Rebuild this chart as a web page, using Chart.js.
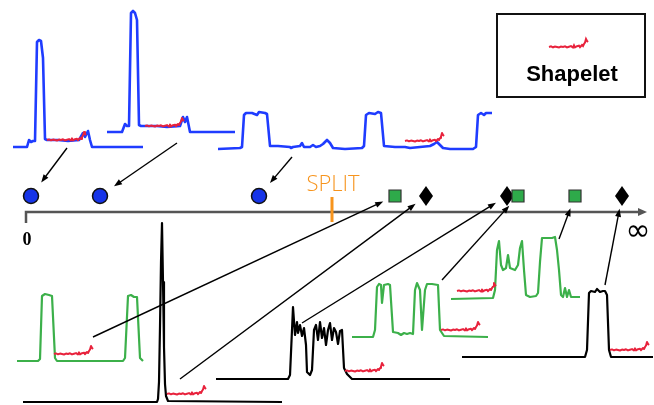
<!DOCTYPE html>
<html>
<head>
<meta charset="utf-8">
<script src="https://cdn.jsdelivr.net/npm/chart.js@4.4.0/dist/chart.umd.min.js"></script>
<style>
html, body { margin: 0; padding: 0; background: #fff; overflow: hidden; }
</style>
</head>
<body>
<canvas id="mycanvas" width="654" height="405"></canvas>
<script>
// the shapelet: [step, height]
var shapelet = [[0,0],[2,0.6],[4,-0.3],[6,0.4],[8,0],[10,-0.5],[12,0.4],[14,0],[16,0.7],[18,-0.4],[20,0.3],[22,0.9],[24,-0.5],[25,1.6],[26,-0.4],[28,0.8],[30,1.3],[31,-0.2],[33,2],[34,1],[35,3],[36,4.5],[37,8],[38,6],[39,5]];

// top series (blue), [step, height]
var blueA = [[0,0],[14,0],[16,7],[18,5],[20,6],[22,6],[24,105],[26,107],[28,106],[30,89],[32,8],[34,7],[45,7],[55,6],[66,7],[70,14],[72,10],[75,16],[77,7],[79,0],[130,0]];
var blueB = [[0,0],[15,0],[18,8],[20,6],[22,6],[24,119],[26,121],[28,119],[30,112],[32,7],[34,6],[50,6],[60,5],[73,6],[76,15],[78,10],[80,15],[83,0],[128,0]];
var blueC = [[0,0],[22,1],[24,2],[26,34],[28,36],[34,36],[39,34],[41,37],[47,36],[49,35],[52,3],[60,3],[72,2],[73,1],[75,2],[82,3],[84,6],[86,2],[92,2],[95,4],[98,2],[102,3],[105,5],[109,9],[112,6],[115,1],[127,0],[144,1],[146,3],[148,34],[151,36],[157,35],[160,37],[163,36],[166,3],[177,2],[187,2],[192,1],[202,2],[212,3],[216,5],[219,7],[222,4],[225,1],[232,0],[255,0],[258,2],[260,34],[263,36],[266,34],[268,36],[274,36]];

// bottom series (green and black), [step, height]
var greenA = [[0,0],[21,0],[23,2],[25,65],[28,67],[32,66],[35,65],[38,3],[40,0],[106,0],[108,3],[111,65],[114,66],[117,64],[120,64],[123,3],[126,0]];
var greenB = [[0,0],[21,0],[23,7],[25,50],[27,53],[29,52],[30,34],[32,52],[36,53],[38,52],[41,5],[46,4],[49,2],[52,4],[55,3],[58,4],[61,3],[63,47],[65,54],[68,47],[70,7],[73,47],[75,53],[80,53],[86,52],[88,7],[92,1],[136,0]];
var greenC = [[0,0],[42,1],[44,9],[46,49],[48,58],[50,34],[52,29],[55,31],[57,44],[59,31],[64,29],[67,34],[69,51],[71,58],[73,29],[75,4],[79,2],[85,3],[87,6],[89,37],[91,61],[101,61],[104,62],[106,49],[108,29],[110,4],[112,2],[114,11],[116,2],[118,9],[120,2],[129,2]];
var blackA = [[0,0],[134,0],[135,3],[136,20],[137,75],[138,140],[139,179],[140,120],[141,55],[142,18],[143,6],[145,1],[259,0]];
var blackB = [[0,0],[72,0],[74,4],[76,49],[77,72],[79,44],[81,57],[82,46],[84,54],[86,43],[88,51],[90,34],[91,7],[94,4],[96,9],[98,49],[100,54],[102,39],[104,57],[106,41],[108,51],[110,34],[112,49],[114,56],[116,39],[118,51],[120,47],[122,35],[124,48],[126,49],[128,11],[131,5],[136,0],[234,0]];
var blackC = [[0,0],[123,0],[125,7],[127,64],[129,66],[133,65],[135,68],[138,65],[141,66],[143,66],[145,62],[147,7],[149,0],[191,0]];

// distances on the number line
var blueDist = [5, 74, 233];
var greenDist = [369, 492, 549];
var blackDist = [400, 481, 596];
var splitDist = 306;

var BLUE = '#1f3cff', RED = '#e8223c', GREEN = '#3cb04a', BLACK = '#000000';
var line = { x0: 26, y: 212, end: 647, markY: 196 };

// where each series sits and which marker it points to
var layout = [
	{ data: blueA, color: BLUE, x0: 13, base: 147, red: [34, 7], from: [54, -1], cls: 'blue', idx: 0 },
	{ data: blueB, color: BLUE, x0: 107, base: 132, red: [38, 6], from: [70, -11], cls: 'blue', idx: 1 },
	{ data: blueC, color: BLUE, x0: 218, base: 149, red: [187, 8], from: [74, -8], cls: 'blue', idx: 2 },
	{ data: greenA, color: GREEN, x0: 17, base: 361, red: [37, 7], from: [76, 24], cls: 'green', idx: 0 },
	{ data: blackA, color: BLACK, x0: 23, base: 402, red: [144, 8], from: [157, 23], cls: 'black', idx: 0 },
	{ data: blackB, color: BLACK, x0: 216, base: 379, red: [129, 8], from: [86, 56], cls: 'black', idx: 1 },
	{ data: greenB, color: GREEN, x0: 352, base: 337, red: [89, 7], from: [90, 57], cls: 'green', idx: 1 },
	{ data: greenC, color: GREEN, x0: 451, base: 299, red: [6, 8], from: [108, 60], cls: 'green', idx: 2 },
	{ data: blackC, color: BLACK, x0: 462, base: 357, red: [148, 7], from: [143, 72], cls: 'black', idx: 2 }
];
var legendShapelet = { x0: 549, base: 47 };

var dists = { blue: blueDist, green: greenDist, black: blackDist };

function place(arr, x0, base) {
	return arr.map(function(p) { return { x: x0 + p[0], y: base - p[1] }; });
}

// diamond marker
var diamond = document.createElement('canvas');
diamond.width = 16; diamond.height = 22;
(function() {
	var c = diamond.getContext('2d');
	c.fillStyle = '#000';
	c.beginPath();
	c.moveTo(8, 1); c.lineTo(15, 11); c.lineTo(8, 21); c.lineTo(1, 11);
	c.closePath();
	c.fill();
})();

var datasets = [];
layout.forEach(function(s) {
	datasets.push({
		data: place(s.data, s.x0, s.base),
		borderColor: s.color,
		borderWidth: s.color == BLUE ? 2.6 : 2.2,
		showLine: true, pointRadius: 0, tension: 0,
		borderJoinStyle: 'round', clip: false, order: 2
	});
	datasets.push({
		data: place(shapelet, s.x0 + s.red[0], s.base - s.red[1]),
		borderColor: RED, borderWidth: 2,
		showLine: true, pointRadius: 0, tension: 0,
		borderJoinStyle: 'round', clip: false, order: 1
	});
});
datasets.push({
	data: place(shapelet, legendShapelet.x0, legendShapelet.base),
	borderColor: RED, borderWidth: 2,
	showLine: true, pointRadius: 0, tension: 0, clip: false, order: 1
});
datasets.push({
	data: blueDist.map(function(d) { return { x: line.x0 + d, y: line.markY }; }),
	pointStyle: 'circle', pointRadius: 7.5, pointBackgroundColor: '#1634e8',
	pointBorderColor: '#111', pointBorderWidth: 1.5, showLine: false, clip: false, order: 0
});
datasets.push({
	data: greenDist.map(function(d) { return { x: line.x0 + d, y: line.markY }; }),
	pointStyle: 'rect', pointRadius: 8.5, pointBackgroundColor: '#2eaa4a',
	pointBorderColor: '#333', pointBorderWidth: 1.2, showLine: false, clip: false, order: 0
});
datasets.push({
	data: blackDist.map(function(d) { return { x: line.x0 + d, y: line.markY }; }),
	pointStyle: diamond, pointRadius: 10, showLine: false, clip: false, order: 0
});

function arrow(ctx, x1, y1, x2, y2) {
	var a = Math.atan2(y2 - y1, x2 - x1), L = 8, W = 3;
	ctx.beginPath();
	ctx.moveTo(x1, y1);
	ctx.lineTo(x2 - Math.cos(a) * L * 0.8, y2 - Math.sin(a) * L * 0.8);
	ctx.stroke();
	ctx.beginPath();
	ctx.moveTo(x2, y2);
	ctx.lineTo(x2 - Math.cos(a) * L - Math.sin(a) * W, y2 - Math.sin(a) * L + Math.cos(a) * W);
	ctx.lineTo(x2 - Math.cos(a) * L + Math.sin(a) * W, y2 - Math.sin(a) * L - Math.cos(a) * W);
	ctx.closePath();
	ctx.fill();
}

var decor = {
	id: 'decor',
	beforeDatasetsDraw: function(chart) {
		var ctx = chart.ctx, sx = chart.scales.x, sy = chart.scales.y;
		var X = function(v) { return sx.getPixelForValue(v); };
		var Y = function(v) { return sy.getPixelForValue(v); };
		ctx.save();
		// number line
		ctx.strokeStyle = '#555'; ctx.fillStyle = '#555'; ctx.lineWidth = 2.5;
		ctx.beginPath();
		ctx.moveTo(X(line.x0), Y(line.y + 11));
		ctx.lineTo(X(line.x0), Y(line.y));
		ctx.lineTo(X(line.end - 6), Y(line.y));
		ctx.stroke();
		ctx.beginPath();
		ctx.moveTo(X(line.end), Y(line.y));
		ctx.lineTo(X(line.end - 9), Y(line.y - 4));
		ctx.lineTo(X(line.end - 9), Y(line.y + 4));
		ctx.closePath();
		ctx.fill();
		// split
		ctx.strokeStyle = '#f7941d'; ctx.lineWidth = 3;
		ctx.beginPath();
		ctx.moveTo(X(line.x0 + splitDist), Y(line.y - 15));
		ctx.lineTo(X(line.x0 + splitDist), Y(line.y + 10));
		ctx.stroke();
		ctx.fillStyle = '#f7941d';
		ctx.font = '300 22px "Open Sans", "Liberation Sans", sans-serif';
		ctx.textAlign = 'center'; ctx.textBaseline = 'alphabetic';
		ctx.fillText('SPLIT', X(line.x0 + splitDist + 1), Y(191));
		// labels
		ctx.fillStyle = '#000';
		ctx.font = 'bold 18px "Liberation Serif", serif';
		ctx.fillText('0', X(line.x0 + 1), Y(245));
		ctx.font = '30px "DejaVu Sans", sans-serif';
		ctx.fillText('\u221E', X(638), Y(240));
		// legend box
		ctx.strokeStyle = '#111'; ctx.lineWidth = 2;
		ctx.strokeRect(X(497), Y(14), X(645) - X(497), Y(97) - Y(14));
		ctx.font = 'bold 22px "Liberation Sans", sans-serif';
		ctx.fillText('Shapelet', X(572), Y(81));
		ctx.restore();
	},
	afterDatasetsDraw: function(chart) {
		var ctx = chart.ctx, sx = chart.scales.x, sy = chart.scales.y;
		ctx.save();
		ctx.strokeStyle = '#000'; ctx.fillStyle = '#000'; ctx.lineWidth = 1.4;
		layout.forEach(function(s) {
			var x1 = sx.getPixelForValue(s.x0 + s.from[0]);
			var y1 = sy.getPixelForValue(s.base - s.from[1]);
			var mx = sx.getPixelForValue(line.x0 + dists[s.cls][s.idx]);
			var my = sy.getPixelForValue(line.markY);
			var gap = s.cls == 'blue' ? 17 : 13;
			var d = Math.hypot(x1 - mx, y1 - my);
			arrow(ctx, x1, y1, mx + (x1 - mx) / d * gap, my + (y1 - my) / d * gap);
		});
		ctx.restore();
	}
};

var ctx = document.getElementById('mycanvas');
var chart = new Chart(ctx, {
	type: 'scatter',
	data: { datasets: datasets },
	options: {
		responsive: false,
		animation: false,
		layout: { padding: 0, autoPadding: false },
		plugins: { legend: { display: false }, tooltip: { enabled: false } },
		scales: {
			x: { type: 'linear', min: 0, max: 654, display: false },
			y: { type: 'linear', min: 0, max: 405, reverse: true, display: false }
		}
	},
	plugins: [decor]
});
</script>
</body>
</html>
